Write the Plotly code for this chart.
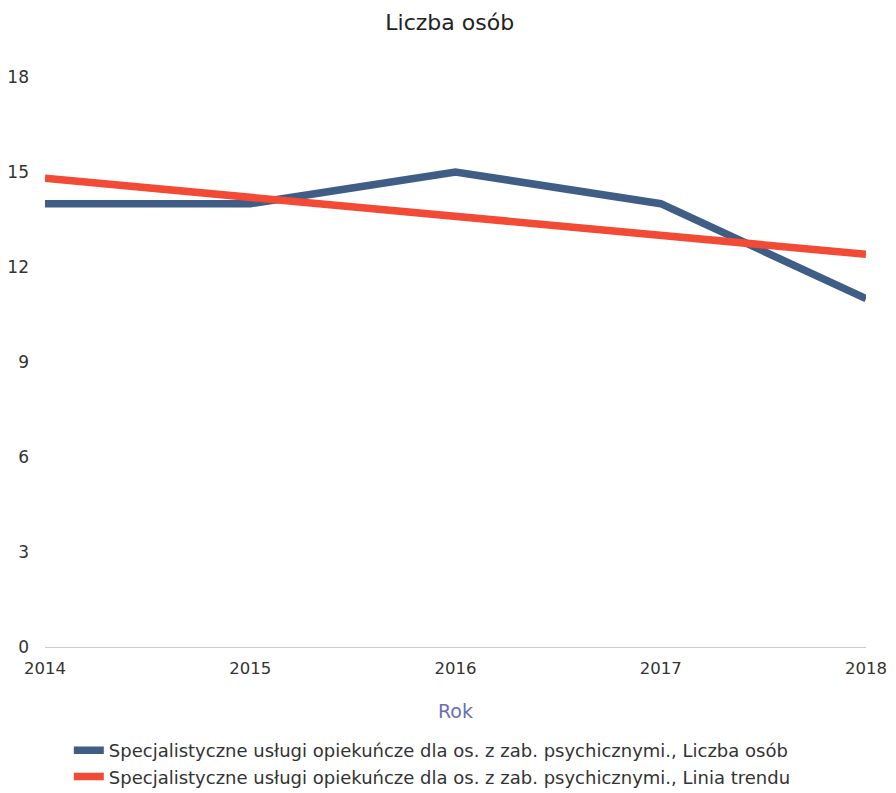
import plotly.graph_objects as go

years = [2014, 2015, 2016, 2017, 2018]
liczba_osob = [14, 14, 15, 14, 11]
linia_trendu = [14.8, 14.2, 13.6, 13.0, 12.4]
y_ticks = [0, 3, 6, 9, 12, 15, 18]

name1 = "Specjalistyczne usługi opiekuńcze dla os. z zab. psychicznymi., Liczba osób"
name2 = "Specjalistyczne usługi opiekuńcze dla os. z zab. psychicznymi., Linia trendu"

fig = go.Figure()
fig.add_trace(go.Scatter(x=years, y=liczba_osob, mode="lines", name=name1,
                         line=dict(color="#3f5d85", width=7.5)))
fig.add_trace(go.Scatter(x=years, y=linia_trendu, mode="lines", name=name2,
                         line=dict(color="#f24a35", width=7.5)))

font = "DejaVu Sans, Verdana, sans-serif"
fig.update_layout(
    width=896, height=793,
    paper_bgcolor="white", plot_bgcolor="white",
    margin=dict(l=37, r=38, t=69, b=154, autoexpand=False),
    title=dict(text="Liczba osób", x=0.493, xanchor="center", y=0.982, yanchor="middle",
               font=dict(family=font, size=22, color="#222")),
    font=dict(family=font, size=17, color="#333"),
    xaxis=dict(range=[2014, 2018], tickvals=years, ticktext=[str(y) for y in years],
               showgrid=False, zeroline=False, showline=False, ticks="",
               ticklabelstandoff=9, automargin=False,
               title=dict(text="Rok", font=dict(size=19, color="#6b6fb0"), standoff=28),
               tickfont=dict(size=16.5, color="#333")),
    yaxis=dict(range=[0, 18], tickvals=y_ticks, showgrid=False, zeroline=True,
               zerolinecolor="#cccccc", zerolinewidth=1, ticks="", automargin=False,
               tickfont=dict(size=17, color="#333"), ticklabelstandoff=15),
    legend=dict(orientation="v", x=0.029, xanchor="left", y=-0.149, yanchor="top",
                font=dict(size=18, color="#333"), tracegroupgap=0, itemwidth=30,
                traceorder="normal"),
    showlegend=True,
)
fig.write_html("out.html")
